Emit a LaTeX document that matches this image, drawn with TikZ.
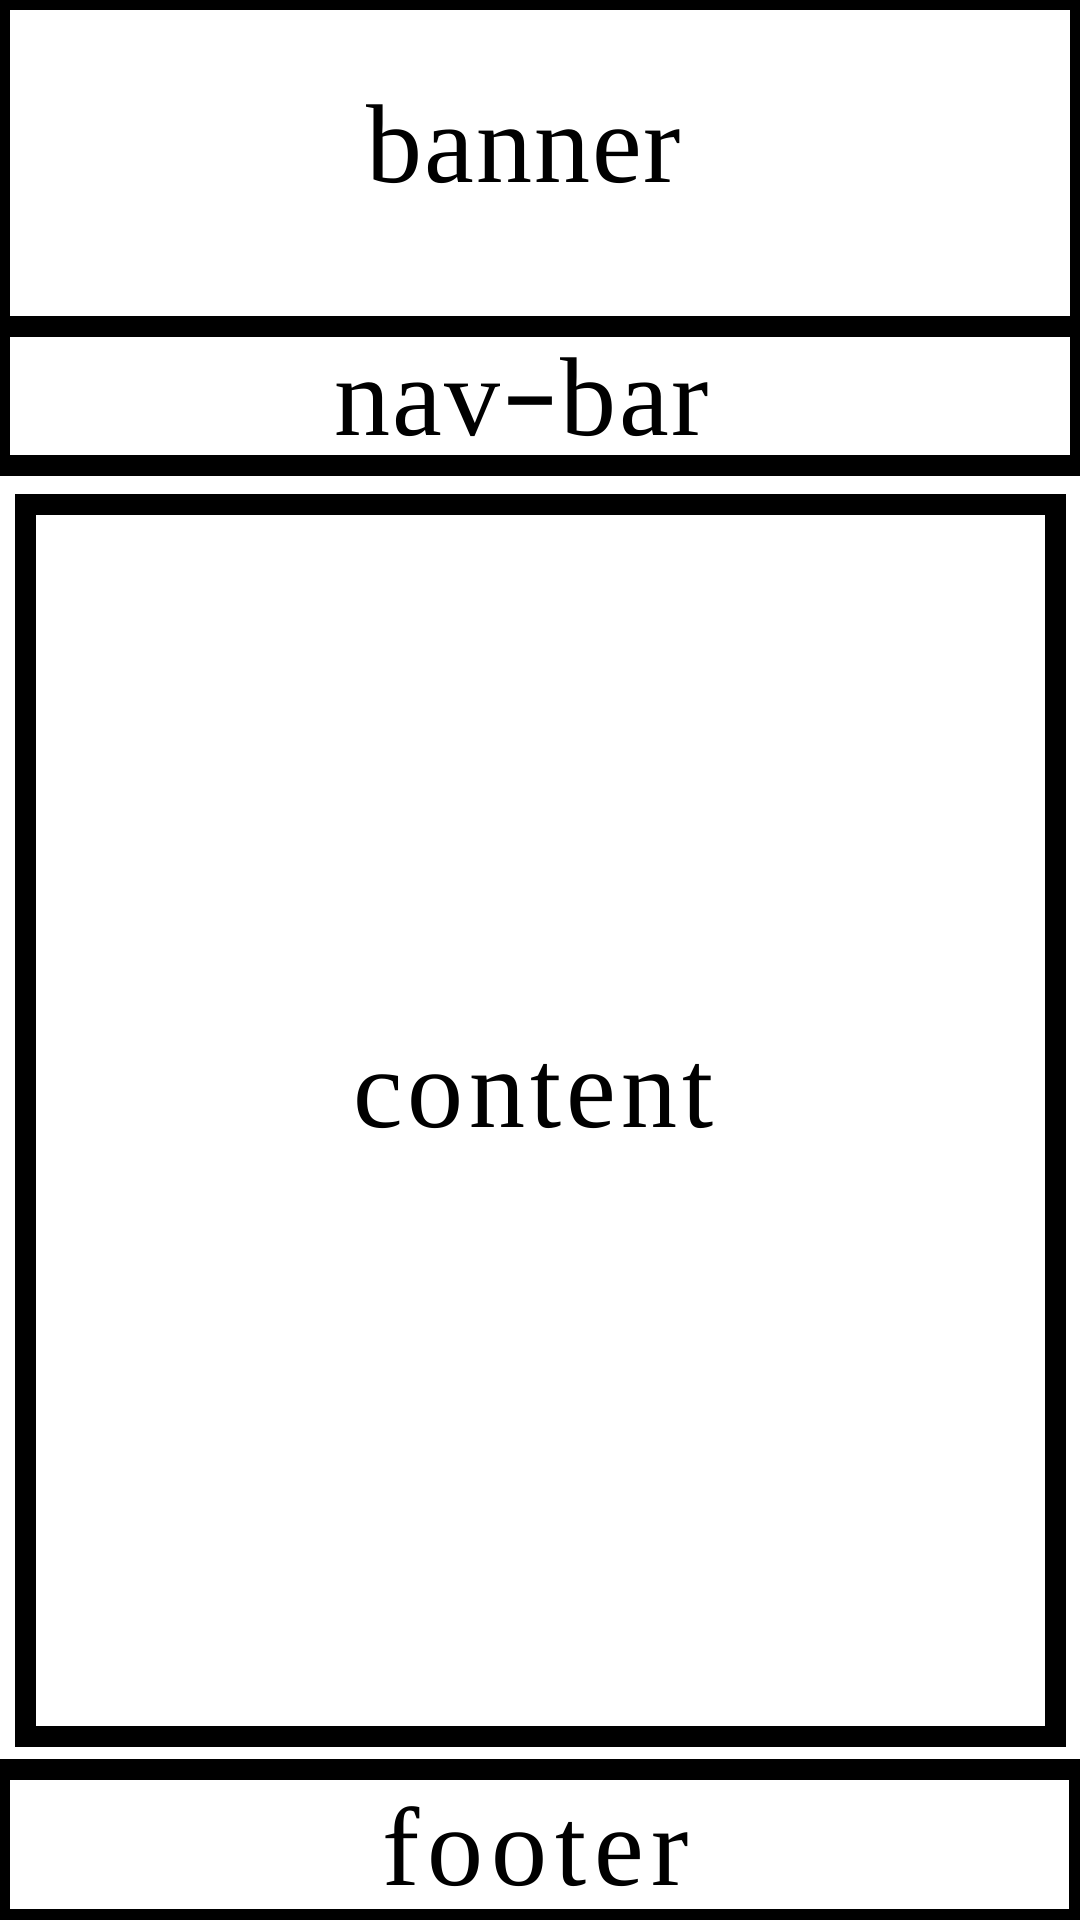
\documentclass[tikz,border=0pt]{standalone}
\usepackage{fontspec}
\setmainfont{Liberation Serif}
\newcommand\spaced[2]{{\addfontfeature{LetterSpace=#1}#2}}
\newcommand\widedash{\raisebox{8pt}{\scalebox{1.5}[1]{-}}}
\tikzset{
  frame/.style={fill=black},
  hole/.style={fill=white},
  label/.style={inner sep=0pt, anchor=base, font=\fontsize{112}{120}\selectfont}
}
\begin{document}
\begin{tikzpicture}[x=1pt,y=-1pt]
\useasboundingbox[fill=white] (0,0) rectangle (1080,1920);
% banner + nav-bar frame
\fill[frame] (0,0) rectangle (1080,476);
\fill[hole] (10,10) rectangle (1070,316);
\fill[hole] (10,337) rectangle (1070,455);
% content
\fill[frame] (15.3,494) rectangle (1066.3,1747.3);
\fill[hole] (36,515) rectangle (1045.3,1726);
% footer
\fill[frame] (0,1759.3) rectangle (1080,1920);
\fill[hole] (10,1780) rectangle (1069.3,1909.3);
% labels
\node[label] (banner) at (524,182) {\spaced{1.7}{banner}};
\node[label] (nav) at (521.5,435) {\spaced{2}{nav}\kern2pt\widedash\kern2pt\spaced{2}{bar}};
\node[label] (content) at (533.5,1127) {\spaced{4.6}{content}};
\node[label] (footer) at (536,1885) {\spaced{7}{footer}};
\end{tikzpicture}
\end{document}
